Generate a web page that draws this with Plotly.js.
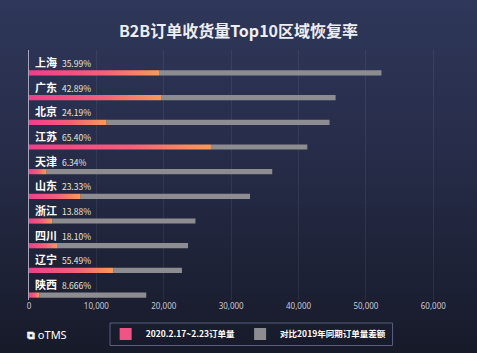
<!DOCTYPE html>
<html><head><meta charset="utf-8">
<script src="https://cdn.plot.ly/plotly-3.0.1.min.js"></script>
<style>
html,body{margin:0;padding:0;background:#1a1d2e;}
#chart{width:477px;height:353px;background:linear-gradient(180deg,#2f375a 0%,#262c48 45%,#171a29 100%);}
</style></head>
<body><div id="chart"></div>
<script>
const regions = ['上海','广东','北京','江苏','天津','山东','浙江','四川','辽宁','陕西'];
const rates = ['35.99%','42.89%','24.19%','65.40%','6.34%','23.33%','13.88%','18.10%','55.49%','8.666%'];
const orders2020 = [19300, 19600, 11500, 27000, 2600, 7650, 3450, 4250, 12500, 1550];
const diff2019 = [33000, 25900, 33100, 14300, 33500, 25150, 21250, 19350, 10200, 15850];
const xTicks = [0, 10000, 20000, 30000, 40000, 50000, 60000];
const legendNames = ['2020.2.17~2.23订单量', '对比2019年同期订单量差额'];

const idx = regions.map((_, i) => i);
const half = 0.105;
const traces = [];
regions.forEach((r, i) => {
  const v = orders2020[i];
  traces.push({
    type: 'scatter', mode: 'lines',
    x: [0, v, v, 0, 0],
    y: [i - half, i - half, i + half, i + half, i - half],
    fill: 'toself',
    fillcolor: '#ec4c86',
    fillgradient: {type: 'horizontal', colorscale: [[0, '#ee3f8a'], [0.55, '#f2607a'], [1, '#f89a58']]},
    line: {width: 0},
    hoverinfo: 'skip',
    showlegend: false
  });
});
traces.push({
  type: 'bar', orientation: 'h', name: legendNames[0],
  x: regions.map(() => null), y: idx,
  marker: {color: '#ef5484'}, showlegend: true
});
traces.push({
  type: 'bar', orientation: 'h', name: legendNames[1],
  x: diff2019, base: orders2020, y: idx, width: 2 * half,
  marker: {color: '#8c8c91'}, hoverinfo: 'skip'
});

const annotations = regions.map((r, i) => ({
  x: 0, y: i, xref: 'x', yref: 'y', xanchor: 'left', yanchor: 'bottom',
  xshift: 4, yshift: 1, showarrow: false,
  text: '<b>' + r + '</b>  <span style="font-size:8.5px;color:#ece6d2">' + rates[i] + '</span>',
  font: {family: '"Noto Sans CJK SC", "Noto Sans", sans-serif', size: 11, color: '#ffffff'}
}));
annotations.push({
  xref: 'paper', yref: 'paper', x: -0.01, y: -0.136, xanchor: 'left', yanchor: 'middle',
  showarrow: false, text: '<b>⧉</b> oTMS',
  font: {family: '"Noto Sans", "DejaVu Sans", sans-serif', size: 11, color: '#ffffff'}
});

const layout = {
  width: 477, height: 353,
  paper_bgcolor: 'rgba(0,0,0,0)', plot_bgcolor: 'rgba(0,0,0,0)',
  margin: {l: 29, r: 10, t: 50, b: 53, autoexpand: false},
  title: {
    text: '<b>B2B订单收货量Top10区域恢复率</b>',
    x: 0.5, xanchor: 'center', y: 0.91, yanchor: 'middle',
    font: {family: '"Noto Sans CJK SC", sans-serif', size: 16, color: '#eceef4'}
  },
  barmode: 'overlay',
  xaxis: {
    range: [0, 65000], tickvals: xTicks, tickformat: ',',
    showgrid: true, gridcolor: 'rgba(255,255,255,0.07)', gridwidth: 1,
    zeroline: false, showline: false, ticks: '', automargin: false,
    tickfont: {family: '"Noto Sans", sans-serif', size: 8, color: '#c8cad6'},
    fixedrange: true
  },
  yaxis: {
    range: [9.2, -0.93], showticklabels: false, showgrid: false, zeroline: false,
    showline: true, linecolor: '#a8a4bc', linewidth: 1, ticks: '', fixedrange: true, automargin: false
  },
  showlegend: true,
  legend: {
    orientation: 'h', x: 0.175, y: -0.136, xanchor: 'left', yanchor: 'middle',
    bgcolor: 'rgba(0,0,0,0)', borderwidth: 0,
    font: {family: '"Noto Sans CJK SC", sans-serif', size: 8.5, color: '#ffffff', weight: 700},
    itemwidth: 30, traceorder: 'normal'
  },
  shapes: [{
    type: 'rect', xref: 'paper', yref: 'paper',
    x0: 0.185, x1: 0.83, y0: -0.092, y1: -0.182,
    line: {color: '#5b6080', width: 1}, fillcolor: 'rgba(0,0,0,0)'
  }],
  annotations: annotations
};
Plotly.newPlot('chart', traces, layout, {displayModeBar: false, staticPlot: true});
</script></body></html>
